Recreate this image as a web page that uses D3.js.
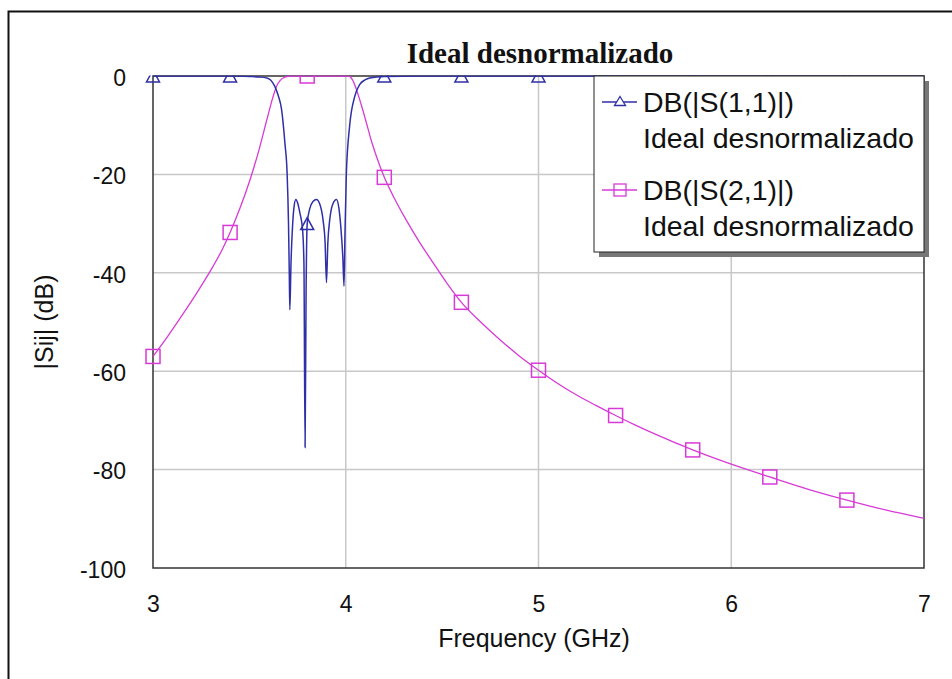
<!DOCTYPE html>
<html><head><meta charset="utf-8">
<script src="https://cdn.jsdelivr.net/npm/d3@7"></script>
<style>
html,body{margin:0;padding:0;background:#fff;}
svg{display:block;}
</style></head>
<body>
<svg id="chart" width="952" height="679"></svg>
<script>
// ---- data ----
const title = "Ideal desnormalizado";
const xTicks = [3, 4, 5, 6, 7];
const yTicks = [0, -20, -40, -60, -80, -100];

const s11Freq = [3.0, 3.4, 3.5, 3.55, 3.59, 3.61, 3.632, 3.65, 3.667, 3.684, 3.696, 3.703, 3.707, 3.71,
  3.716, 3.724, 3.732, 3.741, 3.752, 3.762, 3.776, 3.783, 3.789, 3.794, 3.8, 3.813, 3.83, 3.848,
  3.865, 3.882, 3.893, 3.9, 3.907, 3.917, 3.933, 3.952, 3.965, 3.974, 3.985, 3.991, 3.996, 4.003,
  4.02, 4.047, 4.073, 4.1, 4.124, 4.2, 4.4, 7.0];
const s11DB = [0, 0, -0.1, -0.2, -0.4, -0.8, -2.1, -4.0, -6.8, -13.5, -20, -30, -40, -47.5,
  -38, -30.5, -26.5, -25.1, -26, -27.8, -31.2, -38, -75.5, -45, -30, -27, -25.5, -25.1,
  -26, -29.2, -34, -42, -34, -29.2, -26, -25.1, -27, -30.5, -37, -42.7, -32, -20,
  -10.2, -4.1, -1.7, -0.8, -0.4, -0.1, 0, 0];

const s21Freq = [3.0, 3.08, 3.16, 3.24, 3.31, 3.36, 3.4, 3.45, 3.5, 3.55, 3.59, 3.62, 3.641, 3.66, 3.68,
  3.7, 3.72, 4.0, 4.02, 4.035, 4.055, 4.08, 4.107, 4.13, 4.159, 4.2, 4.25, 4.314, 4.38, 4.452,
  4.53, 4.6, 4.7, 4.8, 4.9, 5.0, 5.1, 5.2, 5.3, 5.4, 5.5, 5.6, 5.8, 6.0, 6.2, 6.4, 6.6, 6.8, 7.0];
const s21DB = [-57, -52.7, -48.1, -43.3, -38.8, -35.2, -31.8, -27.0, -21.5, -15.0, -9.0, -4.6, -2.1, -0.9, -0.3,
  -0.05, 0, 0, -0.1, -0.8, -2.7, -5.8, -9.5, -12.8, -16.3, -20.6, -24.7, -29.3, -33.6, -37.9,
  -42.4, -46, -50.0, -53.6, -56.9, -59.8, -62.5, -64.9, -67.0, -69.0, -70.9, -72.7, -76.0, -78.9, -81.5, -84.0, -86.2, -88.2, -89.9];

const markerFreq = [3.0, 3.4, 3.8, 4.2, 4.6, 5.0, 5.4, 5.8, 6.2, 6.6];
const s11Marker = [0, 0, -30, 0, 0, 0, 0, 0, 0, 0];
const s21Marker = [-57, -31.8, 0, -20.6, -46, -59.8, -69.0, -76.0, -81.5, -86.2];

const seriesNames = ["DB(|S(1,1)|)", "DB(|S(2,1)|)"];
const seriesSub = ["Ideal desnormalizado", "Ideal desnormalizado"];
const xLabel = "Frequency (GHz)";
const yLabel = "|Sij| (dB)";

// ---- layout ----
const C11 = "#2f2fa8", C21 = "#d83ad8";
const FONT = "Liberation Sans, Arial, sans-serif";
const L = 153, R = 924, T = 76, B = 568;
const svg = d3.select("#chart");
const x = d3.scaleLinear().domain([3, 7]).range([L, R]);
const y = d3.scaleLinear().domain([-100, 0]).range([B, T]);

// outer frame
svg.append("rect").attr("x", 8.5).attr("y", 11.5).attr("width", 1000).attr("height", 1000)
  .attr("fill", "#fff").attr("stroke", "#111").attr("stroke-width", 2);

// title
svg.append("text").attr("x", 540).attr("y", 63).attr("text-anchor", "middle")
  .attr("font-family", "Liberation Serif, Times New Roman, serif").attr("font-weight", "bold")
  .attr("font-size", 29).attr("fill", "#111").text(title);

// grid
const g = svg.append("g");
g.selectAll(".gx").data(xTicks.slice(1, -1)).join("line")
  .attr("x1", d => x(d)).attr("x2", d => x(d)).attr("y1", T).attr("y2", B)
  .attr("stroke", "#c8c8c8").attr("stroke-width", 1.5);
g.selectAll(".gy").data(yTicks.slice(1, -1)).join("line")
  .attr("x1", L).attr("x2", R).attr("y1", d => y(d)).attr("y2", d => y(d))
  .attr("stroke", "#c8c8c8").attr("stroke-width", 1.5);
g.append("rect").attr("x", L).attr("y", T).attr("width", R - L).attr("height", B - T)
  .attr("fill", "none").attr("stroke", "#333").attr("stroke-width", 1.5);

// axes (labels only)
const fmt = d => String(d);
const xAxis = d3.axisBottom(x).tickValues(xTicks).tickSize(0).tickPadding(0).tickFormat(fmt);
const gx = svg.append("g").attr("transform", `translate(0,${B + 29})`).call(xAxis);
const yAxis = d3.axisLeft(y).tickValues(yTicks).tickSize(0).tickPadding(0).tickFormat(fmt);
const gy = svg.append("g").attr("transform", `translate(${L - 27},2)`).call(yAxis);
[gx, gy].forEach(a => {
  a.select(".domain").remove();
  a.selectAll("text").attr("font-family", FONT)
    .attr("font-size", 23).attr("fill", "#111");
});
gx.selectAll("text").attr("dy", "0.66em");

svg.append("text").attr("x", 534).attr("y", 647).attr("text-anchor", "middle")
  .attr("font-family", FONT).attr("font-size", 25).attr("fill", "#111").text(xLabel);
svg.append("text").attr("transform", "translate(53,322) rotate(-90)").attr("text-anchor", "middle")
  .attr("font-family", FONT).attr("font-size", 25).attr("fill", "#111").text(yLabel);

// clip
svg.append("clipPath").attr("id", "clip").append("rect").attr("x", L - 8).attr("y", T - 0.5).attr("width", R - L + 16).attr("height", B - T + 8);
const plot = svg.append("g").attr("clip-path", "url(#clip)");

const line = d3.line().x(d => x(d[0])).y(d => y(d[1])).curve(d3.curveMonotoneX);
const s21 = s21Freq.map((f, i) => [f, s21DB[i]]);
const s11 = s11Freq.map((f, i) => [f, s11DB[i]]);
plot.append("path").attr("d", line(s21)).attr("fill", "none").attr("stroke", C21).attr("stroke-width", 1.3);
plot.append("path").attr("d", line(s11)).attr("fill", "none").attr("stroke", C11).attr("stroke-width", 1.5);

const tri = (cx, cy, w, h) => `M${cx},${cy - h / 2}L${cx + w / 2},${cy + h / 2}L${cx - w / 2},${cy + h / 2}Z`;
plot.selectAll(".m21").data(markerFreq.map((f, i) => [f, s21Marker[i]])).join("rect")
  .attr("x", d => x(d[0]) - 7).attr("y", d => y(d[1]) - 7).attr("width", 14).attr("height", 14)
  .attr("fill", "none").attr("stroke", C21).attr("stroke-width", 1.5);
plot.selectAll(".m11").data(markerFreq.map((f, i) => [f, s11Marker[i]])).join("path")
  .attr("d", d => tri(x(d[0]), y(d[1]), 13, 12))
  .attr("fill", "none").attr("stroke", C11).attr("stroke-width", 1.5);

// legend
const lg = svg.append("g");
const LX = 594, LY = 76, LW = 330, LH = 176;
lg.append("rect").attr("x", LX + 5).attr("y", LY + 5).attr("width", LW).attr("height", LH).attr("fill", "#777");
lg.append("rect").attr("x", LX).attr("y", LY).attr("width", LW).attr("height", LH)
  .attr("fill", "#fff").attr("stroke", "#222").attr("stroke-width", 1);
const cols = [C11, C21];
seriesNames.forEach((nm, i) => {
  const yy = LY + 26 + i * 88;
  lg.append("line").attr("x1", LX + 8).attr("x2", LX + 43).attr("y1", yy).attr("y2", yy)
    .attr("stroke", cols[i]).attr("stroke-width", 1.3);
  if (i === 0) lg.append("path").attr("d", tri(LX + 26, yy - 1, 11, 9)).attr("fill", "#fff").attr("stroke", cols[i]).attr("stroke-width", 1.3);
  else lg.append("rect").attr("x", LX + 20).attr("y", yy - 6).attr("width", 12).attr("height", 12).attr("fill", "none").attr("stroke", cols[i]).attr("stroke-width", 1.3);
  lg.append("text").attr("x", LX + 49).attr("y", yy + 10).attr("font-family", FONT)
    .attr("font-size", 28.5).attr("fill", "#111").text(nm);
  lg.append("text").attr("x", LX + 49).attr("y", yy + 46).attr("font-family", FONT)
    .attr("font-size", 28.5).attr("fill", "#111").text(seriesSub[i]);
});
</script>
</body></html>
